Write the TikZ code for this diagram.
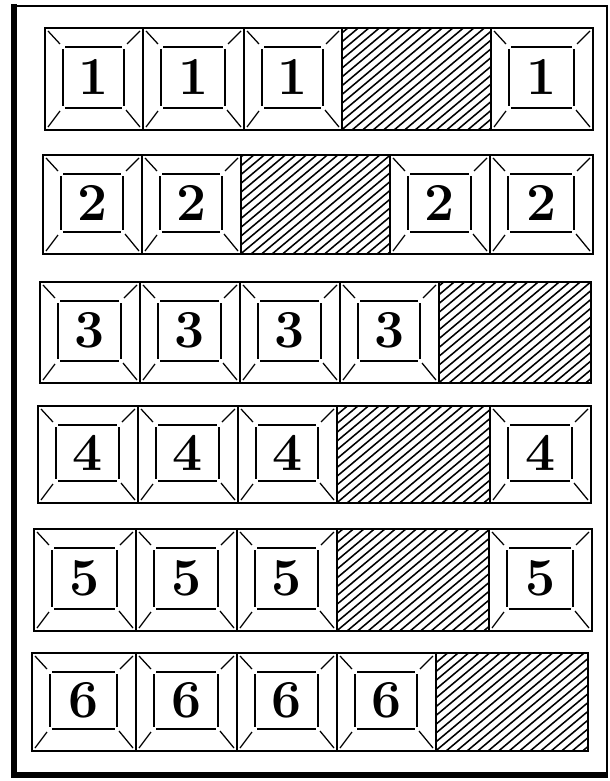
\documentclass[tikz,border=0pt]{standalone}
\usepackage{tikz}
\usetikzlibrary{calc}

% one numbered block: name, x0, y0, x1, y1, digit
\newcommand{\blockcell}[6]{%
  \draw[cellline] (#2,#3) rectangle (#4,#5);
  % face, open at its corners
  \draw[faceline] ({#2+18},{#3+21}) -- ({#2+18},{#5-24});
  \draw[faceline] ({#4-19},{#3+21}) -- ({#4-19},{#5-24});
  \draw[faceline] ({#2+20},{#3+19}) -- ({#4-21},{#3+19});
  \draw[faceline] ({#2+20},{#5-22}) -- ({#4-21},{#5-22});
  % bevel
  \draw[faceline] ({#2+3},{#3+3}) -- ({#2+15},{#3+16});
  \draw[faceline] ({#4-3},{#3+3}) -- ({#4-16},{#3+16});
  \draw[faceline] ({#2+3},{#5-3}) -- ({#2+15},{#5-19});
  \draw[faceline] ({#4-3},{#5-3}) -- ({#4-17},{#5-20});
  \node[digit] (#1) at ({(#2+#4)/2},{(#3+#5)/2-2}) {#6};
}

% one empty, hatched place: x0, y0, x1, y1
\newcommand{\voidcell}[4]{%
  \begin{scope}
    \clip (#1,#2) rectangle (#3,#4);
    \foreach \k in {0,10.5,...,300}
      \draw[hatchline] ({#1+\k-130},{#4+3}) -- ++(160,-134);
  \end{scope}
  \draw[cellline] (#1,#2) rectangle (#3,#4);
}

\begin{document}
\begin{tikzpicture}[x=0.025cm,y=-0.025cm,
    cellline/.style={line width=1.4pt},
    faceline/.style={line width=0.9pt},
    hatchline/.style={line width=1.1pt},
    rowline/.style={line width=2pt},
    digit/.style={font=\fontsize{38}{38}\selectfont\bfseries,inner sep=0pt}]
  \useasboundingbox (0,0) rectangle (610,781);

  % frame
  \draw[line width=1.6pt] (14,6) rectangle (607,775);
  \draw[line width=3.6pt] (14,4) -- (14,775) -- (608,775);

  % row 1
  \foreach \a/\b/\d [count=\n] in {45/143/1,143/244/1,244/342/1,491/593/1}
    {\blockcell{c1\n}{\a}{28}{\b}{130}{\d}}
  \voidcell{342}{28}{491}{130}
  \draw[rowline] (45,28) rectangle (593,130);

  % row 2
  \foreach \a/\b/\d [count=\n] in {43/142/2,142/241/2,390/490/2,490/593/2}
    {\blockcell{c2\n}{\a}{155}{\b}{254}{\d}}
  \voidcell{241}{155}{390}{254}
  \draw[rowline] (43,155) rectangle (593,254);

  % row 3
  \foreach \a/\b/\d [count=\n] in {40/140/3,140/240/3,240/340/3,340/439/3}
    {\blockcell{c3\n}{\a}{282}{\b}{383}{\d}}
  \voidcell{439}{282}{591}{383}
  \draw[rowline] (40,282) rectangle (591,383);

  % row 4
  \foreach \a/\b/\d [count=\n] in {38/138/4,138/238/4,238/337/4,490/591/4}
    {\blockcell{c4\n}{\a}{406}{\b}{503}{\d}}
  \voidcell{337}{406}{490}{503}
  \draw[rowline] (38,406) rectangle (591,503);

  % row 5
  \foreach \a/\b/\d [count=\n] in {34/136/5,136/237/5,237/337/5,489/592/5}
    {\blockcell{c5\n}{\a}{529}{\b}{631}{\d}}
  \voidcell{337}{529}{489}{631}
  \draw[rowline] (34,529) rectangle (592,631);

  % row 6
  \foreach \a/\b/\d [count=\n] in {32/136/6,136/237/6,237/337/6,337/436/6}
    {\blockcell{c6\n}{\a}{653}{\b}{751}{\d}}
  \voidcell{436}{653}{588}{751}
  \draw[rowline] (32,653) rectangle (588,751);
\end{tikzpicture}
\end{document}
